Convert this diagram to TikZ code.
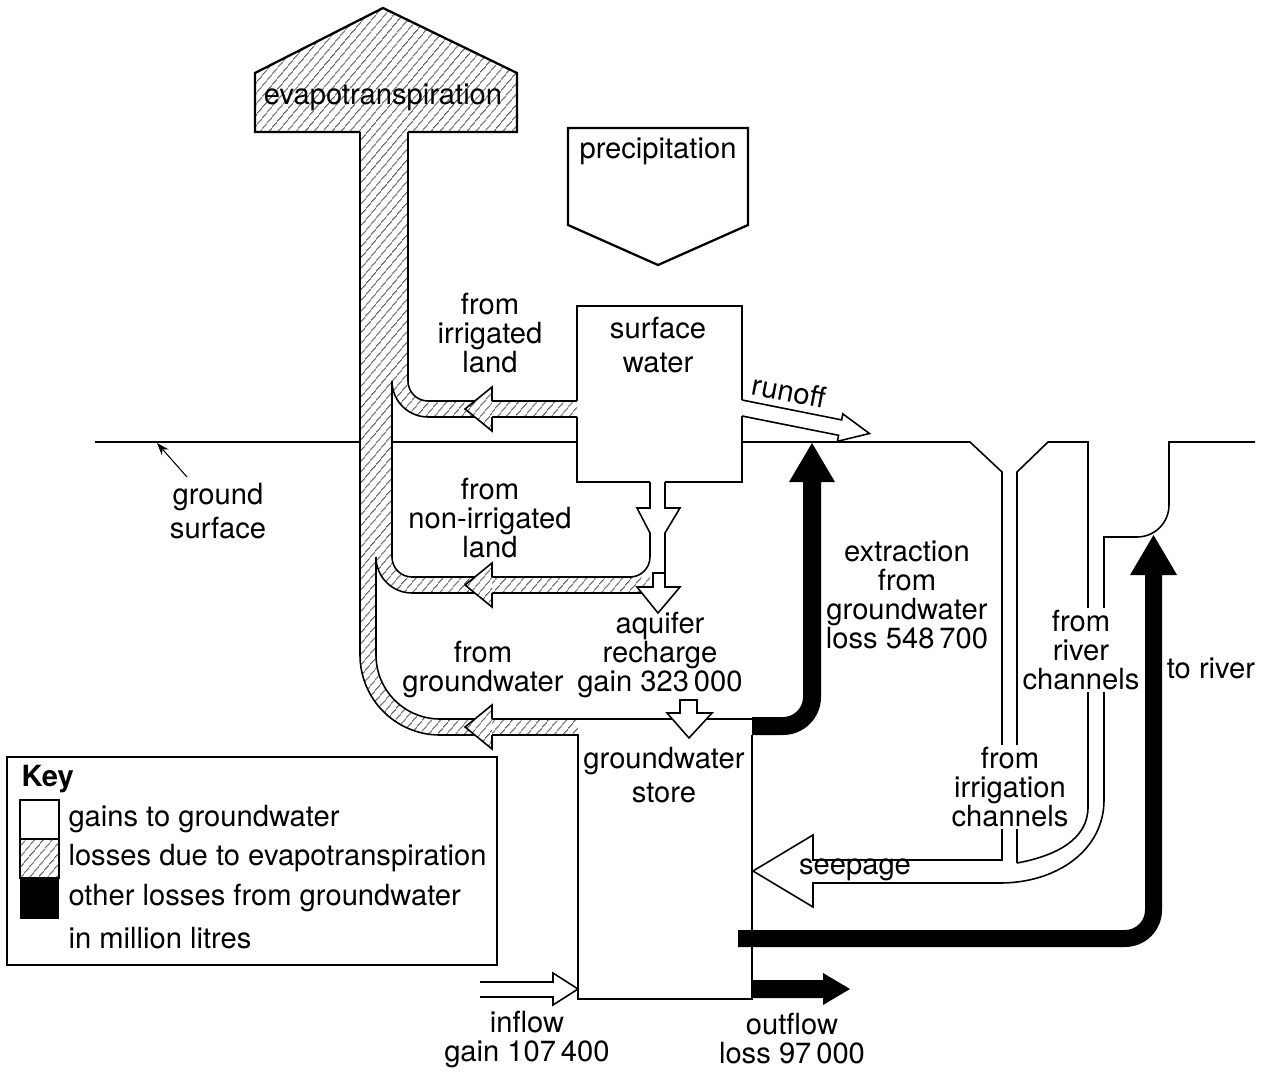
\documentclass[tikz,border=0pt]{standalone}
\usepackage{fontspec}
\setmainfont{TeX Gyre Heros}
\usetikzlibrary{patterns.meta,arrows.meta}
\tikzset{
  hatch/.style={fill=white, postaction={pattern={Lines[angle=50,distance=4pt,line width=.45pt]}}},
  heavy/.style={line width=1.3pt},
  txt/.style={align=center, inner sep=1pt},
  cut/.style={txt, fill=white},
}
\begin{document}
\begin{tikzpicture}[x=.02cm, y=-.02cm, line width=.9pt,
    every node/.style={font=\fontsize{16.6}{16.5}\selectfont}]
  \useasboundingbox (0,0) rectangle (1267,1075);

  \draw (95,442) -- (360,442);
  \draw (392,442) -- (577,442);

  \fill[hatch] (255,73) -- (383,8) -- (517,73) -- (517,132) -- (408,132) -- (408,381)
    arc[start angle=180,end angle=90,radius=20] -- (577,401) -- (577,417) -- (428,417)
    arc[start angle=90,end angle=180,radius=36] -- (392,557)
    arc[start angle=180,end angle=90,radius=20] -- (650,577) -- (650,593) -- (412,593)
    arc[start angle=90,end angle=180,radius=36] -- (376,655)
    arc[start angle=180,end angle=90,radius=64] -- (578,719) -- (578,735) -- (440,735)
    arc[start angle=90,end angle=180,radius=80] -- (360,132) -- (255,132) -- cycle;
  \draw[heavy] (360,132) -- (255,132) -- (255,73) -- (383,8) -- (517,73) -- (517,132) -- (408,132);
  \draw (408,132) -- (408,381) arc[start angle=180,end angle=90,radius=20] -- (577,401);
  \draw (577,417) -- (428,417) arc[start angle=90,end angle=180,radius=36] -- (392,557)
    arc[start angle=180,end angle=90,radius=20] -- (630,577)
    arc[start angle=90,end angle=0,radius=20] -- (650,533) -- (637,508) -- (650,508) -- (650,482);
  \draw (665,482) -- (665,508) -- (680,508) -- (665,533) -- (665,573);
  \draw (645,593) -- (412,593) arc[start angle=90,end angle=180,radius=36] -- (376,655)
    arc[start angle=180,end angle=90,radius=64] -- (752,719);
  \draw (752,735) -- (752,999) -- (578,999) -- (578,735) -- (440,735)
    arc[start angle=90,end angle=180,radius=80] -- (360,132);

  \foreach \y in {409,585,727} {
    \fill[hatch] (492,\y-22) -- (465,\y) -- (492,\y+22) -- cycle;
    \draw (492,\y-8) -- (492,\y-22) -- (465,\y) -- (492,\y+22) -- (492,\y+8);
  }

  \draw (577,401) -- (577,306) -- (742,306) -- (742,400);
  \draw (742,416) -- (742,482) -- (665,482);
  \draw (650,482) -- (577,482) -- (577,417);
  \draw[heavy] (568,128) -- (748,128) -- (748,225) -- (658,265) -- (568,225) -- cycle;

  \draw[fill=white] (653,573) -- (665,573) -- (665,587) -- (680,587) -- (658,613) -- (637,587) -- (653,587) -- cycle;
  \draw[fill=white] (680,700) -- (697,700) -- (697,713) -- (712,713) -- (689,738) -- (667,713) -- (680,713) -- cycle;
  \draw[fill=white] (480,982) -- (553,982) -- (553,973) -- (578,989) -- (553,1005) -- (553,997) -- (480,997);
  \draw[fill=white] (742,400) -- (841.6,419.9) -- (842.8,413.9) -- (869.5,433.5) -- (837.4,441.3) -- (838.6,435.3) -- (742,416);

  \draw (742,442) -- (970,442) -- (1002,472) -- (1002,860) -- (813,860) -- (813,835) -- (753,871)
    -- (813,907) -- (813,883) -- (1000,883) .. controls (1057,883) and (1104,850) .. (1104,800)
    -- (1104,537) -- (1137,537) arc[start angle=90,end angle=0,radius=32] -- (1169,442) -- (1255,442);
  \draw (1017,863) -- (1017,472) -- (1048,442) -- (1088,442) -- (1088,807)
    .. controls (1088,840) and (1055,856) .. (1017,863);

  \fill (752,717) -- (783,717) arc[start angle=90,end angle=0,radius=20] -- (803,482) -- (789,482)
    -- (812,443) -- (835,482) -- (821,482) -- (821,697) arc[start angle=0,end angle=90,radius=38]
    -- (752,735) -- cycle;
  \fill (738,930) -- (1125,930) arc[start angle=90,end angle=0,radius=20] -- (1145,575) -- (1130,575)
    -- (1153.5,535) -- (1177,575) -- (1162,575) -- (1162,910) arc[start angle=0,end angle=90,radius=37]
    -- (738,947) -- cycle;
  \fill (752,980) -- (823,980) -- (823,973) -- (850,989) -- (823,1005) -- (823,998) -- (752,998) -- cycle;

  \coordinate (gtail) at (187,477);
  \coordinate (gtip) at (157,443);
  \draw[line width=.6pt, -{Stealth[length=7pt,width=5pt]}] (gtail) -- (gtip);

  \node[txt] (evap) at (383,97) {evapotranspiration};
  \node[txt] (precip) at (658,151) {precipitation};
  \node[txt] (surf) at (658,345) {surface\\[3pt]water};
  \node[txt] (irrland) at (490,333) {from\\irrigated\\land};
  \node[txt] (nonland) at (490,518) {from\\non-irrigated\\land};
  \node[txt] (fromgw) at (483,669) {from\\groundwater};
  \node[txt] (recharge) at (660,655) {aquifer\\recharge\\gain 323\,000};
  \node[txt] (store) at (664,775) {groundwater\\[3pt]store};
  \node[txt] (extract) at (907,595) {extraction\\from\\groundwater\\loss 548\,700};
  \node[cut] (river) at (1081,650) {from\\river\\channels};
  \node[txt] (toriver) at (1211,668) {to river};
  \node[cut] (irrchan) at (1010,787) {from\\irrigation\\channels};
  \node[txt] (seep) at (855,870) {seepage};
  \node[txt, rotate=-11] (runoff) at (789,391) {runoff};
  \node[txt] (inflow) at (527,1039) {inflow\\gain 107\,400};
  \node[txt] (outflow) at (792,1039) {outflow\\loss 97\,000};
  \node[txt] (gsurf) at (218,511) {ground\\[3pt]surface};

  \draw[heavy] (7,757) rectangle (497,965);
  \node[txt, anchor=west] (key) at (19,779) {\textbf{Key}};
  \draw[heavy] (20,800) rectangle (59,839);
  \draw[heavy, hatch] (20,839) rectangle (59,878);
  \fill (20,878) rectangle (59,919);
  \node[txt, anchor=west] (kgain) at (66,819) {gains to groundwater};
  \node[txt, anchor=west] (kevap) at (66,858) {losses due to evapotranspiration};
  \node[txt, anchor=west] (kother) at (66,898) {other losses from groundwater};
  \node[txt, anchor=west] (kunit) at (66,938) {in million litres};
\end{tikzpicture}
\end{document}
